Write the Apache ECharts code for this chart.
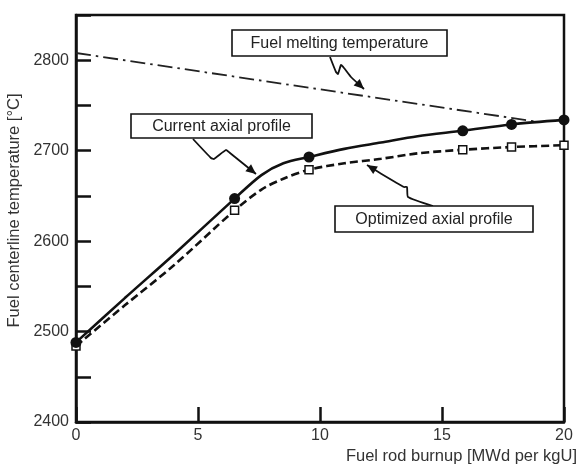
<!DOCTYPE html>
<html>
<head>
<meta charset="utf-8">
<script src="https://cdn.jsdelivr.net/npm/echarts@6/dist/echarts.min.js"></script>
<style>
  html, body { margin: 0; padding: 0; background: #fff; }
  #chart { width: 577px; height: 466px; }
</style>
</head>
<body>
<div id="chart"></div>
<script>
  // burnup values (MWd per kgU) of the marked points
  const burnup = [0, 6.5, 9.55, 15.85, 17.85, 20]
  const currentProfile = [2488, 2647, 2693, 2722, 2729, 2734]
  const optimizedProfile = [2484, 2634, 2679, 2701, 2704, 2706]
  // curve traces (markers included)
  const curveBurnup = [0, 2, 4, 6.5, 7.6, 8.5, 9.55, 11, 12.5, 14, 15.85, 17.85, 20]
  const currentCurve = [2488, 2537, 2585, 2647, 2673, 2686, 2693, 2702, 2709, 2716, 2722, 2729, 2734]
  const optimizedCurve = [2484, 2529, 2573, 2634, 2657, 2669, 2679, 2686, 2691, 2697, 2701, 2704, 2706]
  // fuel melting temperature line, start and end
  const meltBurnup = [0, 18.9]
  const meltTemp = [2808, 2732]

  const font = 'Liberation Sans, Arial, Helvetica, sans-serif'

  const pairs = (xs, ys) => xs.map((x, i) => [x, ys[i]])

  // arrow head polygon for a tip and the point before it
  function head(p, t) {
    let dx = t[0] - p[0], dy = t[1] - p[1]
    let len = Math.sqrt(dx * dx + dy * dy)
    dx /= len; dy /= len
    const L = 10, W = 4.5
    const bx = t[0] - dx * L, by = t[1] - dy * L
    return {
      type: 'polygon',
      shape: { points: [t, [bx - dy * W, by + dx * W], [bx + dy * W, by - dx * W]] },
      style: { fill: '#111' }
    }
  }

  function squiggle(pts) {
    return [
      {
        type: 'polyline',
        shape: { points: pts, smooth: 0.15 },
        style: { stroke: '#111', lineWidth: 1.8, fill: null }
      },
      head(pts[pts.length - 2], pts[pts.length - 1])
    ]
  }

  function box(x, y, w, h, label) {
    return [
      {
        type: 'rect',
        shape: { x: x, y: y, width: w, height: h },
        style: { fill: '#fff', stroke: '#111', lineWidth: 1.6 },
        z: 10
      },
      {
        type: 'text',
        x: x + w / 2, y: y + h / 2 + 1,
        style: {
          text: label, fill: '#222', font: '16px ' + font,
          align: 'center', verticalAlign: 'middle'
        },
        z: 11
      }
    ]
  }

  const myChart = echarts.init(document.getElementById('chart'))

  const option = {
    animation: false,
    backgroundColor: '#fff',
    grid: {
      left: 76, right: 13, top: 15, bottom: 44,
      outerBoundsMode: 'none',
      show: true, borderColor: '#111', borderWidth: 2.5
    },
    xAxis: {
      type: 'value',
      min: 0, max: 20, interval: 5,
      name: 'Fuel rod burnup [MWd per kgU]',
      nameLocation: 'end',
      nameGap: 13,
      nameTextStyle: {
        fontFamily: font, fontSize: 16.5, color: '#333',
        align: 'right', verticalAlign: 'top', padding: [26, 0, 0, 0]
      },
      axisLine: { lineStyle: { color: '#111', width: 2.5 } },
      axisTick: { inside: true, length: 15, lineStyle: { color: '#111', width: 2.5 } },
      axisLabel: { fontFamily: font, fontSize: 16, color: '#333', margin: 6 },
      splitLine: { show: false }
    },
    yAxis: {
      type: 'value',
      min: 2400, max: 2850, interval: 50,
      name: 'Fuel centerline temperature [°C]',
      nameLocation: 'middle',
      nameGap: 48,
      nameTextStyle: { fontFamily: font, fontSize: 16.5, color: '#333', padding: [0, 0, 0, 16] },
      axisLine: { lineStyle: { color: '#111', width: 2.5 } },
      axisTick: { inside: true, length: 15, lineStyle: { color: '#111', width: 2.5 } },
      axisLabel: {
        fontFamily: font, fontSize: 16, color: '#333', margin: 7,
        formatter: v => (v % 100 === 0 ? String(v) : '')
      },
      splitLine: { show: false }
    },
    series: [
      {
        name: 'Fuel melting temperature',
        type: 'line',
        data: pairs(meltBurnup, meltTemp),
        symbol: 'none',
        lineStyle: { color: '#222', width: 1.8, type: [15, 5, 2.5, 5] },
        z: 2
      },
      {
        name: 'Optimized axial profile',
        type: 'line',
        data: pairs(curveBurnup, optimizedCurve),
        smooth: 0.3,
        symbol: 'none',
        lineStyle: { color: '#111', width: 2.6, type: [8, 4] },
        z: 3
      },
      {
        name: 'Current axial profile',
        type: 'line',
        data: pairs(curveBurnup, currentCurve),
        smooth: 0.3,
        symbol: 'none',
        lineStyle: { color: '#111', width: 2.6 },
        z: 4
      },
      {
        name: 'Optimized points',
        type: 'scatter',
        data: pairs(burnup, optimizedProfile),
        symbol: 'rect',
        symbolSize: 8,
        itemStyle: { color: '#fff', borderColor: '#111', borderWidth: 1.5, opacity: 1 },
        z: 5
      },
      {
        name: 'Current points',
        type: 'scatter',
        data: pairs(burnup, currentProfile),
        symbol: 'circle',
        symbolSize: 11,
        itemStyle: { color: '#111', opacity: 1 },
        z: 6
      }
    ],
    graphic: [].concat(
      squiggle([[330, 57], [336, 72], [338, 74], [341, 65], [344, 68], [351, 77], [364, 89]]),
      box(232, 30, 215, 26, 'Fuel melting temperature'),
      squiggle([[193, 139], [211, 158], [214, 159], [226, 150], [230, 153], [256, 174]]),
      box(131, 114, 181, 24, 'Current axial profile'),
      squiggle([[433, 206], [408, 197], [407, 187], [404, 187], [380, 173], [367, 165]]),
      box(335, 206, 198, 26, 'Optimized axial profile')
    )
  }

  myChart.setOption(option)
</script>
</body>
</html>
